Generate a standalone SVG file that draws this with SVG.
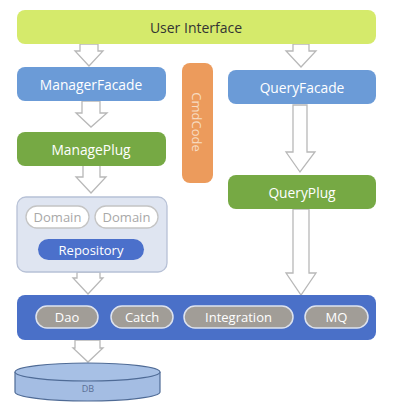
<svg xmlns="http://www.w3.org/2000/svg" width="408" height="412" viewBox="0 0 408 412">
<style>
text{font-family:"Open Sans","Noto Sans","DejaVu Sans",sans-serif;text-anchor:middle;dominant-baseline:central}
.t{font-size:13.8px;fill:#ffffff}
.arrow{fill:#ffffff;stroke:#b8b8b8;stroke-width:1.3;stroke-linejoin:miter}
.blue{fill:#6b9bd7}
.green{fill:#76a944}
.pill{fill:#a19d97;stroke:#dde3ef;stroke-width:1.5}
.pt{font-size:13px;fill:#ffffff}
</style>
<rect width="408" height="412" fill="#ffffff"/>
<g id="connectors">
<path class="arrow" d="M80,44 H98 V51 H103 L89,66 L75,51 H80 Z"/>
<path class="arrow" d="M293,44 H309 V51 H316 L301,67 L286,51 H293 Z"/>
<path class="arrow" d="M82,101 H100 V113 H107 L91,127 L76,113 H82 Z"/>
<path class="arrow" d="M83,165 H100 V177 H106 L91,193 L76,177 H83 Z"/>
<path class="arrow" d="M293,105 H307 V152 H315 L300,172 L286,152 H293 Z"/>
<path class="arrow" d="M293,209 H309 V273 H316 L301,295 L286,273 H293 Z"/>
<path class="arrow" d="M77,272 H100 V278 H103 L88,294 L73,278 H77 Z"/>
<path class="arrow" d="M75,340 H100 V348 H103 L88,362 L73,348 H75 Z"/>
</g>
<g id="user-interface">
<rect x="17" y="10" width="359" height="34" rx="8" fill="#d5ea6b"/>
<text x="196" y="27" style="font-size:14px;fill:#333333">User Interface</text>
</g>
<g id="manager-facade">
<rect x="17" y="67" width="149" height="34" rx="8" class="blue"/>
<text class="t" x="91" y="84">ManagerFacade</text>
</g>
<g id="cmdcode">
<rect x="182" y="63" width="31" height="120" rx="8" fill="#ec9b5c"/>
<text x="197" y="122" transform="rotate(90 197 122)" style="font-size:13px;fill:#f7dcc2">CmdCode</text>
</g>
<g id="query-facade">
<rect x="228" y="70" width="148" height="34" rx="8" class="blue"/>
<text class="t" x="302" y="87">QueryFacade</text>
</g>
<g id="manage-plug">
<rect x="17" y="132" width="149" height="34" rx="8" class="green"/>
<text class="t" x="91" y="149">ManagePlug</text>
</g>
<g id="query-plug">
<rect x="228" y="175" width="148" height="34" rx="8" class="green"/>
<text class="t" x="302" y="192">QueryPlug</text>
</g>
<g id="domain-layer">
<rect x="17" y="197" width="150" height="75" rx="9" fill="#dfe5f1" stroke="#b7c1d6" stroke-width="1.3"/>
<g id="domain1">
<rect x="26" y="206" width="63" height="22" rx="11" fill="#ffffff" stroke="#c4c4c4" stroke-width="1.3"/>
<text x="57.5" y="217" style="font-size:13px;fill:#a8a8a8">Domain</text>
</g>
<g id="domain2">
<rect x="95" y="206" width="63" height="22" rx="11" fill="#ffffff" stroke="#c4c4c4" stroke-width="1.3"/>
<text x="126.5" y="217" style="font-size:13px;fill:#a8a8a8">Domain</text>
</g>
<g id="repository">
<rect x="38" y="239" width="106" height="21" rx="10.5" fill="#4b70cb"/>
<text x="91" y="249.5" style="font-size:13px;fill:#ffffff">Repository</text>
</g>
</g>
<g id="infrastructure">
<rect x="17" y="295" width="359" height="45" rx="8" fill="#4a70c8"/>
<g id="dao"><rect class="pill" x="36" y="306" width="62" height="22" rx="11"/><text class="pt" x="67" y="317">Dao</text></g>
<g id="catch"><rect class="pill" x="111" y="306" width="62" height="22" rx="11"/><text class="pt" x="142" y="317">Catch</text></g>
<g id="integration"><rect class="pill" x="184" y="306" width="109" height="22" rx="11"/><text class="pt" x="238.5" y="317">Integration</text></g>
<g id="mq"><rect class="pill" x="305" y="306" width="63" height="22" rx="11"/><text class="pt" x="336.5" y="317">MQ</text></g>
</g>
<g id="db">
<path d="M15,372 V392 A72.5,9 0 0 0 160,392 V372" fill="#a4bde3" stroke="#4f6b96" stroke-width="1.2"/>
<ellipse cx="87.5" cy="372" rx="72.5" ry="9" fill="#a7c0e5" stroke="#4f6b96" stroke-width="1.2"/>
<text x="88" y="388" style="font-size:9px;fill:#5a6f95">DB</text>
</g>
</svg>
